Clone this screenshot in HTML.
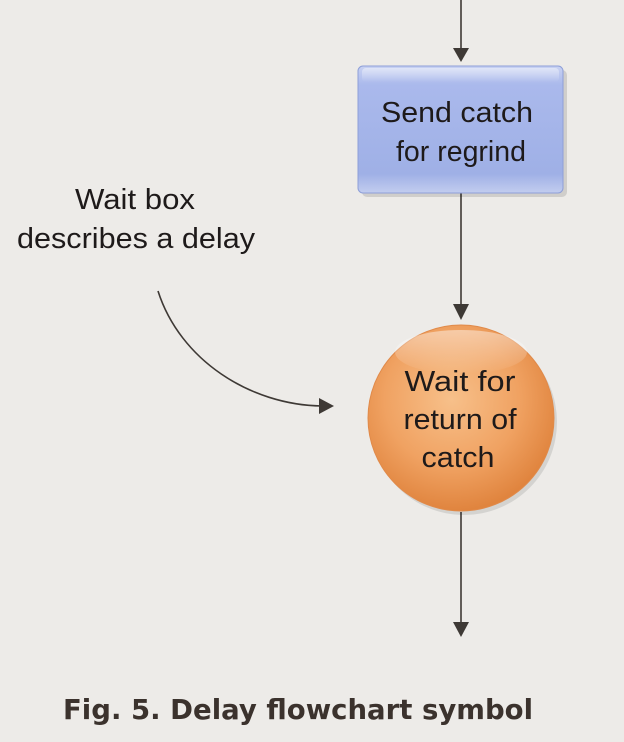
<!DOCTYPE html>
<html><head><style>
html,body{margin:0;padding:0;background:#edebe8;}
svg{display:block;}
</style></head><body>
<svg width="624" height="742" viewBox="0 0 624 742" xmlns="http://www.w3.org/2000/svg">
<defs>
<linearGradient id="bx" x1="0" y1="0" x2="0" y2="1">
<stop offset="0" stop-color="#c9d2f2"/><stop offset="0.15" stop-color="#aab9ec"/><stop offset="0.85" stop-color="#9fb0e6"/><stop offset="1" stop-color="#c3cdef"/>
</linearGradient>
<radialGradient id="ci" cx="0.45" cy="0.4" r="0.6">
<stop offset="0" stop-color="#f7c08a"/><stop offset="0.6" stop-color="#f0a262"/><stop offset="1" stop-color="#e0843e"/>
</radialGradient>
<linearGradient id="hl" x1="0" y1="0" x2="0" y2="1">
<stop offset="0" stop-color="#fff" stop-opacity="0.45"/><stop offset="1" stop-color="#fff" stop-opacity="0"/>
</linearGradient>
</defs>
<rect width="624" height="742" fill="#edebe8"/>
<g stroke="#3e3935" stroke-width="1.6" fill="none">
<line x1="461" y1="0" x2="461" y2="50"/>
<line x1="461" y1="193" x2="461" y2="308"/>
<line x1="461" y1="512" x2="461" y2="625"/>
<path d="M158 291 C 180 360 250 405 322 406"/>
</g>
<g fill="#3e3935">
<polygon points="453,48 469,48 461,62"/>
<polygon points="453,304 469,304 461,320"/>
<polygon points="453,622 469,622 461,637"/>
<polygon points="319,398 334,406 319,414"/>
</g>
<rect x="362" y="70" width="205" height="127" rx="5" fill="#000" opacity="0.12"/>
<rect x="358" y="66" width="205" height="127" rx="5" fill="url(#bx)" stroke="#8e9fd8" stroke-width="1"/>
<rect x="362" y="68" width="197" height="14" rx="4" fill="url(#hl)"/>
<circle cx="464" cy="422" r="93" fill="#000" opacity="0.1"/>
<circle cx="461" cy="418" r="93" fill="url(#ci)" stroke="#e08a4a" stroke-width="1"/>
<ellipse cx="461" cy="352" rx="66" ry="22" fill="url(#hl)"/>
<g font-family="Liberation Sans, sans-serif" font-size="29" fill="#1e1a1a" text-anchor="middle" lengthAdjust="spacingAndGlyphs">
<text x="457" y="122" textLength="152" lengthAdjust="spacingAndGlyphs">Send catch</text>
<text x="461" y="161" textLength="130" lengthAdjust="spacingAndGlyphs">for regrind</text>
<text x="460" y="391" textLength="111" lengthAdjust="spacingAndGlyphs">Wait for</text>
<text x="460" y="429" textLength="113" lengthAdjust="spacingAndGlyphs">return of</text>
<text x="458" y="467" textLength="73" lengthAdjust="spacingAndGlyphs">catch</text>
<text x="135" y="209" textLength="120" lengthAdjust="spacingAndGlyphs">Wait box</text>
<text x="136" y="248" textLength="238" lengthAdjust="spacingAndGlyphs">describes a delay</text>
</g>
<text x="63" y="719" font-family="DejaVu Sans, sans-serif" font-weight="bold" font-size="28" fill="#3b322d" textLength="470" lengthAdjust="spacingAndGlyphs">Fig. 5. Delay flowchart symbol</text>
</svg>
</body></html>
